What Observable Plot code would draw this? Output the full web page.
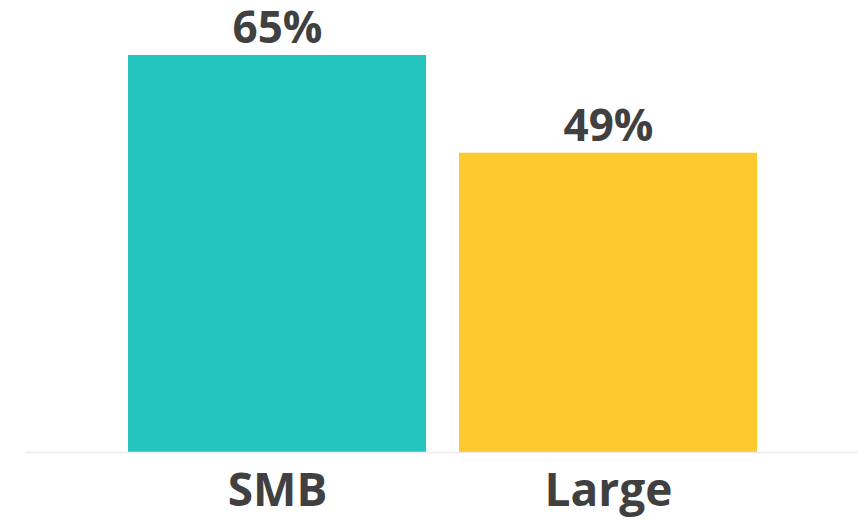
<!DOCTYPE html>
<html>
<head>
<meta charset="utf-8">
<script src="https://cdn.jsdelivr.net/npm/d3@7"></script>
<script src="https://cdn.jsdelivr.net/npm/@observablehq/plot@0.6"></script>
<style>
  html, body { margin: 0; padding: 0; background: #fff; }
  #chart svg { display: block; }
</style>
</head>
<body>
<div id="chart"></div>
<script>
const categories = ["SMB", "Large"];
const values = [65, 49];
const colors = ["#26C4BE", "#FDC92F"];

const data = categories.map((c, i) => ({category: c, value: values[i], color: colors[i]}));

const chart = Plot.plot({
  width: 864,
  height: 520,
  marginTop: 0,
  marginBottom: 68,
  marginLeft: 94,
  marginRight: 73,
  style: {fontFamily: "'Open Sans', sans-serif", background: "#fff", overflow: "visible"},
  x: {domain: categories, padding: 0.1, label: null},
  y: {domain: [0, 74], axis: null},
  marks: [
    Plot.barY(data, {x: "category", y: "value", fill: "color"}),
    Plot.ruleY([0], {stroke: "#ececec", strokeWidth: 1.5, insetLeft: -69, insetRight: -66}),
    Plot.text(data, {x: "category", y: "value", text: d => d.value + "%", dy: -12, lineAnchor: "bottom", fontSize: 44, fontWeight: 700, fill: "#404040"}),
    Plot.axisX({tickSize: 0, tickPadding: 21, fontSize: 46, fontWeight: 700, fill: "#404040", label: null})
  ]
});
document.getElementById("chart").appendChild(chart);
</script>
</body>
</html>
